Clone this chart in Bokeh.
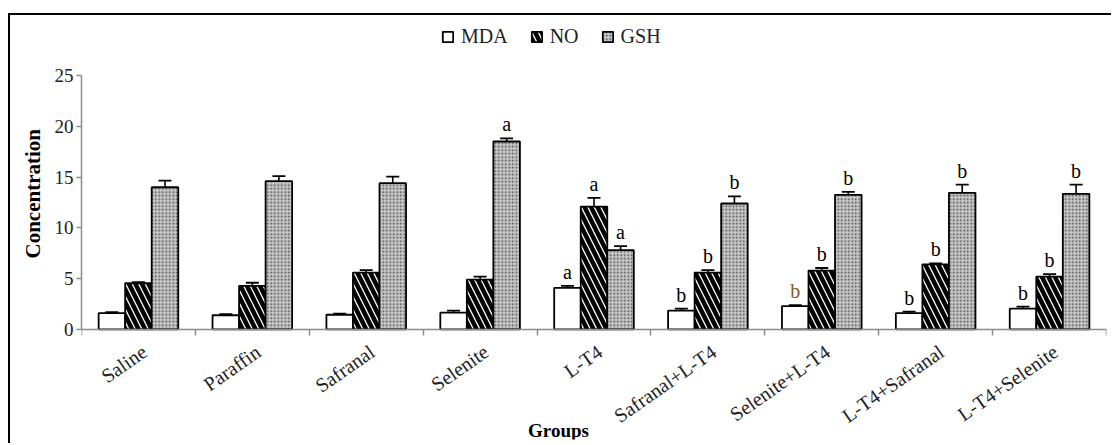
from bokeh.plotting import figure
from bokeh.models import (Range1d, FixedTicker, Legend, LegendItem, Whisker,
                          ColumnDataSource, Label, TeeHead, Title)
from bokeh.embed import file_html
from bokeh.resources import INLINE
from bokeh.core.properties import value

# ---------------- data ----------------
groups = ["Saline", "Paraffin", "Safranal", "Selenite", "L-T4",
          "Safranal+L-T4", "Selenite+L-T4", "L-T4+Safranal", "L-T4+Selenite"]
series = ["MDA", "NO", "GSH"]

mda = [1.6, 1.4, 1.45, 1.65, 4.1, 1.85, 2.3, 1.6, 2.05]
no = [4.55, 4.3, 5.6, 4.9, 12.1, 5.6, 5.8, 6.4, 5.2]
gsh = [14.0, 14.6, 14.4, 18.5, 7.8, 12.4, 13.25, 13.45, 13.35]

mda_err = [0.1, 0.1, 0.1, 0.2, 0.2, 0.2, 0.1, 0.15, 0.2]
no_err = [0.1, 0.3, 0.25, 0.3, 0.85, 0.25, 0.25, 0.1, 0.25]
gsh_err = [0.65, 0.5, 0.65, 0.3, 0.4, 0.7, 0.3, 0.8, 0.9]

mda_sig = ["", "", "", "", "a", "b", "b", "b", "b"]
no_sig = ["", "", "", "", "a", "b", "b", "b", "b"]
gsh_sig = ["", "", "", "a", "a", "b", "b", "b", "b"]

y_ticks = [0, 5, 10, 15, 20, 25]

# ---------------- styling ----------------
FONT = "Liberation Serif"
W, H = 1103, 430
BAR_W = 0.233
offsets = [-BAR_W, 0.0, BAR_W]
# the frame spans from above the axis top down to the picture bottom, so that
# legend, category labels and the x title can be drawn inside it
Y_TOP, Y_BOT = 30.41, -10.83

p = figure(width=W, height=H, output_backend="svg", toolbar_location=None,
           x_range=Range1d(0, 9), y_range=Range1d(Y_BOT, Y_TOP),
           min_border_left=71, min_border_right=7,
           min_border_top=5, min_border_bottom=6)
p.styles = {"border-top": "2px solid black", "border-left": "2px solid black",
            "margin-left": "8px", "margin-top": "13px"}
p.outline_line_color = None
p.grid.visible = False
p.background_fill_color = "white"
p.border_fill_color = "white"

# x axis drawn at value 0, boundary ticks between the groups
centers = [i + 0.5 for i in range(len(groups))]
bounds = [float(i) for i in range(len(groups) + 1)]
p.xaxis.fixed_location = 0
p.xaxis.ticker = FixedTicker(ticks=centers, minor_ticks=bounds)
p.xaxis.major_label_overrides = {c: "" for c in centers}
p.xaxis.major_label_text_font_size = "0px"
p.xaxis.major_label_standoff = 0
p.xaxis.major_tick_out = 0
p.xaxis.major_tick_in = 0
p.xaxis.minor_tick_out = 6
p.xaxis.minor_tick_in = 0
p.xaxis.minor_tick_line_color = "#8c8c8c"
p.xaxis.minor_tick_line_width = 1.5
p.xaxis.axis_line_color = "#8c8c8c"
p.xaxis.axis_line_width = 1.5

p.yaxis.ticker = FixedTicker(ticks=y_ticks)
p.yaxis.bounds = (0, 25)
p.yaxis.minor_tick_line_color = None
p.yaxis.major_tick_out = 5
p.yaxis.major_tick_in = 0
p.yaxis.major_tick_line_color = "#8c8c8c"
p.yaxis.major_tick_line_width = 1.5
p.yaxis.axis_line_color = "#8c8c8c"
p.yaxis.axis_line_width = 1.5
p.yaxis.major_label_text_font = FONT
p.yaxis.major_label_text_font_size = "19px"
p.yaxis.major_label_text_color = "#222222"
p.yaxis.major_label_standoff = 3

p.add_layout(Title(text="Concentration", align="left", offset=181, standoff=14,
                   text_font=FONT, text_font_size="21px",
                   text_font_style="bold", text_color="black"), "left")

# category labels
lab_src = ColumnDataSource(dict(x=centers, y=[0] * len(groups), text=groups))
p.text(x="x", y="y", text="text", source=lab_src, angle=0.61,
       text_align="right", text_baseline="middle", x_offset=6, y_offset=20,
       text_font=value(FONT), text_font_size="20px", text_color="#222222")

# bars
vals = [mda, no, gsh]
errs = [mda_err, no_err, gsh_err]
sigs = [mda_sig, no_sig, gsh_sig]
styles = [
    dict(fill_color="white"),
    dict(fill_color="white", hatch_pattern="\\", hatch_color="black",
         hatch_scale=13, hatch_weight=4.5),
    dict(fill_color="#c4c4c4", hatch_pattern=".", hatch_color="#444444",
         hatch_scale=3.5, hatch_weight=1),
]
renderers = []
for k, name in enumerate(series):
    src = ColumnDataSource(dict(
        x=[c + offsets[k] for c in centers],
        top=vals[k],
        upper=[v + e for v, e in zip(vals[k], errs[k])],
        lower=[v - e for v, e in zip(vals[k], errs[k])],
        sig=sigs[k],
        sig_color=["#8a5522" if (k == 0 and g == "Selenite+L-T4") else "black"
                   for g in groups],
    ))
    r = p.vbar(x="x", top="top", bottom=0, width=BAR_W, source=src,
               line_color="black", line_width=1.8, **styles[k])
    renderers.append(r)
    w = Whisker(base="x", upper="upper", lower="lower", source=src,
                line_color="black", line_width=1.6,
                upper_head=TeeHead(size=13, line_color="black", line_width=1.8),
                lower_head=TeeHead(size=13, line_color="black", line_width=1.8))
    p.add_layout(w)
    p.text(x="x", y="upper", text="sig", source=src, text_color="sig_color",
           text_font=value(FONT), text_font_size="20px", text_align="center",
           text_baseline="alphabetic", y_offset=-14)

legend = Legend(items=[LegendItem(label=s, renderers=[r]) for s, r in zip(series, renderers)],
                location=(360, 391), orientation="horizontal",
                glyph_width=13, glyph_height=13, label_standoff=7, spacing=22,
                padding=0, margin=0, border_line_color=None,
                background_fill_alpha=0,
                label_text_font=FONT, label_text_font_size="20px",
                label_text_color="#222222")
p.add_layout(legend, "center")

p.add_layout(Label(x=477, y=9, x_units="screen", y_units="screen",
                   text="Groups", text_font=FONT, text_font_size="19px",
                   text_font_style="bold", text_align="center",
                   text_baseline="alphabetic", text_color="black"))

open("out.html", "w").write(file_html(p, INLINE))
